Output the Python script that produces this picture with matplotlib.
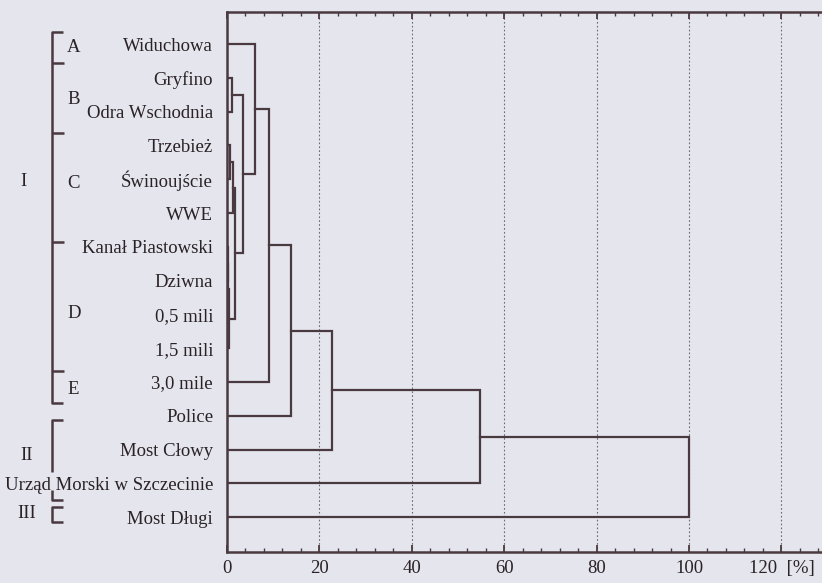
import matplotlib.pyplot as plt
from matplotlib.ticker import MultipleLocator

plt.rcParams['font.family'] = ['Liberation Serif', 'DejaVu Serif']

# leaves, top to bottom
stations = ['Widuchowa', 'Gryfino', 'Odra Wschodnia', 'Trzebież', 'Świnoujście',
            'WWE', 'Kanał Piastowski', 'Dziwna', '0,5 mili', '1,5 mili',
            '3,0 mile', 'Police', 'Most Cłowy', 'Urząd Morski w Szczecinie',
            'Most Długi']

# merges: node 15 onwards, (left child, right child, linkage distance %)
merge_left = [1, 3, 16, 6, 18, 19, 17, 15, 0, 23, 24, 25, 26, 27]
merge_right = [2, 4, 5, 7, 8, 9, 20, 21, 22, 10, 11, 12, 13, 14]
merge_dist = [1.1, 0.65, 1.3, 0.2, 0.3, 0.45, 1.7, 3.5, 6.0, 9.1, 13.9, 22.7, 54.8, 100.0]

x_ticks = [0, 20, 40, 60, 80, 100, 120]
x_labels = ['0', '20', '40', '60', '80', '100', '120  [%]']

# group brackets (left side)
groups = ['A', 'B', 'C', 'D', 'E']
big_groups = ['I', 'II', 'III']

bg = '#e5e5ee'
ink = '#4a3a3f'
txt = '#2a2226'
fs = 13.5

fig = plt.figure(figsize=(8.22, 5.83), dpi=100, facecolor=bg)
ax = fig.add_axes([227/822, 1 - 552/583, (822 - 227)/822, (552 - 12)/583])
ax.set_facecolor(bg)

pos = {i: float(i) for i in range(len(stations))}
hgt = {i: 0.0 for i in range(len(stations))}
node = len(stations)
for l, r, d in zip(merge_left, merge_right, merge_dist):
    ax.plot([hgt[l], d, d, hgt[r]], [pos[l], pos[l], pos[r], pos[r]],
            color=ink, lw=1.6, solid_joinstyle='miter', zorder=3)
    pos[node] = (pos[l] + pos[r]) / 2
    hgt[node] = d
    node += 1

ax.set_xlim(0, 595/4.62)
ax.set_ylim(15.03, -0.947)
ax.set_yticks(range(len(stations)))
ax.set_yticklabels(stations, fontsize=fs, color=txt)
ax.tick_params(axis='y', length=0, pad=10)

ax.set_xticks(x_ticks)
ax.set_xticklabels(x_labels)
ax.xaxis.set_minor_locator(MultipleLocator(4))
ax.tick_params(axis='x', which='both', direction='in', top=True, colors=ink,
               labelcolor=txt, labelsize=fs, pad=6)
ax.tick_params(axis='x', which='major', length=5, width=1.3)
ax.tick_params(axis='x', which='minor', length=3, width=1.0)
for x in x_ticks[1:]:
    ax.axvline(x, color='#6a6a72', lw=0.8, ls=(0, (1.5, 2)), zorder=1)

for s in ['left', 'bottom', 'top']:
    ax.spines[s].set_color(ink)
    ax.spines[s].set_linewidth(1.8)
ax.spines['right'].set_visible(False)

# overlay in pixel coordinates for brackets
ov = fig.add_axes([0, 0, 1, 1], facecolor='none')
ov.set_xlim(0, 822)
ov.set_ylim(583, 0)
ov.axis('off')

def seg(xs, ys):
    ov.plot(xs, ys, color=ink, lw=1.8, solid_capstyle='butt')

seg([63, 52, 52, 63], [32, 32, 403, 403])
for y in [63, 133, 242, 371]:
    seg([52, 64], [y, y])
seg([63, 52, 52], [420, 420, 472])
seg([52, 52, 63], [490, 500, 500])
seg([63, 52, 52, 63], [507, 507, 522, 522])

for g, (x, y) in zip(groups, [(67, 48), (67, 100), (67, 183), (67, 313), (67, 390)]):
    ov.text(x, y, g, fontsize=fs, color=txt, va='center', ha='left')
for g, (x, y) in zip(big_groups, [(23, 181), (27, 455), (27, 514)]):
    ov.text(x, y, g, fontsize=fs, color=txt, va='center', ha='center')

fig.savefig('out.png', dpi=100, facecolor=bg)
